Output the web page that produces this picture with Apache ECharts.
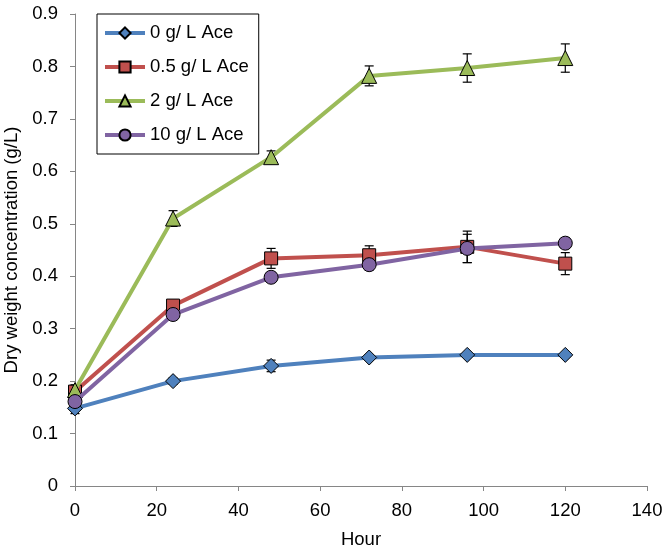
<!DOCTYPE html>
<html><head><meta charset="utf-8">
<script src="https://cdn.jsdelivr.net/npm/echarts@6/dist/echarts.min.js"></script>
<style>html,body{margin:0;padding:0;background:#fff}#c{width:669px;height:551px}</style>
</head><body><div id="c"></div>
<script>
const hours = [0, 24, 48, 72, 96, 120];
const seriesNames = ['0 g/ L Ace', '0.5 g/ L Ace', '2 g/ L Ace', '10 g/ L Ace'];
const ace0 = [0.148, 0.200, 0.229, 0.245, 0.250, 0.250];
const ace0Err = [0.010, 0.006, 0.011, 0.005, 0.004, 0.004];
const ace05 = [0.180, 0.344, 0.434, 0.440, 0.456, 0.424];
const ace05Err = [0.010, 0.010, 0.019, 0.018, 0.030, 0.021];
const ace2 = [0.183, 0.510, 0.627, 0.782, 0.797, 0.816];
const ace2Err = [0.010, 0.015, 0.012, 0.019, 0.027, 0.027];
const ace10 = [0.161, 0.327, 0.398, 0.422, 0.453, 0.463];
const ace10Err = [0.008, 0.008, 0.008, 0.010, 0.027, 0.010];
const yTicks = [0, 0.1, 0.2, 0.3, 0.4, 0.5, 0.6, 0.7, 0.8, 0.9];
const xTicks = [0, 20, 40, 60, 80, 100, 120, 140];

const colors = ['#4F81BD', '#C0504D', '#9BBB59', '#8064A2'];
const symbols = ['diamond', 'rect', 'triangle', 'circle'];
const sizes = [15, 13, 15, 14];
const values = [ace0, ace05, ace2, ace10];
const errs = [ace0Err, ace05Err, ace2Err, ace10Err];
const FONT = 'Liberation Sans, Arial, sans-serif';
const FS = 18.5;

const series = [];
values.forEach((v, i) => {
  series.push({
    type: 'custom',
    name: seriesNames[i] + ' err',
    z: 1 + i * 2,
    silent: true,
    data: hours.map((h, k) => [h, v[k] - errs[i][k], v[k] + errs[i][k]]),
    encode: { x: 0, y: [1, 2] },
    renderItem: function (params, api) {
      const lo = api.coord([api.value(0), api.value(1)]);
      const hi = api.coord([api.value(0), api.value(2)]);
      const hw = 4.5;
      const st = { stroke: '#000', lineWidth: 1.2 };
      return { type: 'group', children: [
        { type: 'line', shape: { x1: lo[0], y1: lo[1], x2: hi[0], y2: hi[1] }, style: st },
        { type: 'line', shape: { x1: lo[0] - hw, y1: lo[1], x2: lo[0] + hw, y2: lo[1] }, style: st },
        { type: 'line', shape: { x1: hi[0] - hw, y1: hi[1], x2: hi[0] + hw, y2: hi[1] }, style: st }
      ]};
    }
  });
  series.push({
    type: 'line',
    name: seriesNames[i],
    z: 2 + i * 2,
    data: hours.map((h, k) => [h, v[k]]),
    symbol: symbols[i],
    symbolSize: sizes[i],
    showAllSymbol: true,
    lineStyle: { color: colors[i], width: 4 },
    itemStyle: { color: colors[i], borderColor: '#000', borderWidth: 1 },
    emphasis: { disabled: true },
    animation: false
  });
});

const chart = echarts.init(document.getElementById('c'), null, { renderer: 'canvas' });
chart.setOption({
  animation: false,
  backgroundColor: '#fff',
  grid: { left: 75, right: 22, top: 14, bottom: 65, containLabel: false, outerBoundsMode: 'none' },
  legend: {
    data: seriesNames,
    orient: 'vertical',
    left: 97, top: 14,
    padding: [9, 10, 9, 6],
    itemWidth: 40, itemHeight: 14,
    itemGap: 14,
    borderColor: '#000', borderWidth: 1,
    backgroundColor: '#fff',
    lineStyle: { width: 4 },
    textStyle: { fontFamily: FONT, fontSize: FS, color: '#000', lineHeight: 20 }
  },
  xAxis: {
    type: 'value', min: xTicks[0], max: xTicks[xTicks.length - 1], interval: 20,
    name: 'Hour', nameLocation: 'middle', nameGap: 44,
    nameTextStyle: { fontFamily: FONT, fontSize: FS, color: '#000' },
    axisLine: { lineStyle: { color: '#868686', width: 1 } },
    axisTick: { show: true, length: 5, lineStyle: { color: '#868686' } },
    axisLabel: { fontFamily: FONT, fontSize: FS, color: '#000', margin: 15 },
    splitLine: { show: false }
  },
  yAxis: {
    type: 'value', min: yTicks[0], max: yTicks[yTicks.length - 1], interval: 0.1,
    name: 'Dry weight concentration (g/L)', nameLocation: 'middle', nameGap: 48,
    nameTextStyle: { fontFamily: FONT, fontSize: FS, color: '#000' },
    axisLine: { show: true, lineStyle: { color: '#868686', width: 1 } },
    axisTick: { show: true, length: 5, lineStyle: { color: '#868686' } },
    axisLabel: { fontFamily: FONT, fontSize: FS, color: '#000', margin: 17,
      formatter: v => String(Math.round(v * 10) / 10) },
    splitLine: { show: false }
  },
  series: series
});
</script>
</body></html>
